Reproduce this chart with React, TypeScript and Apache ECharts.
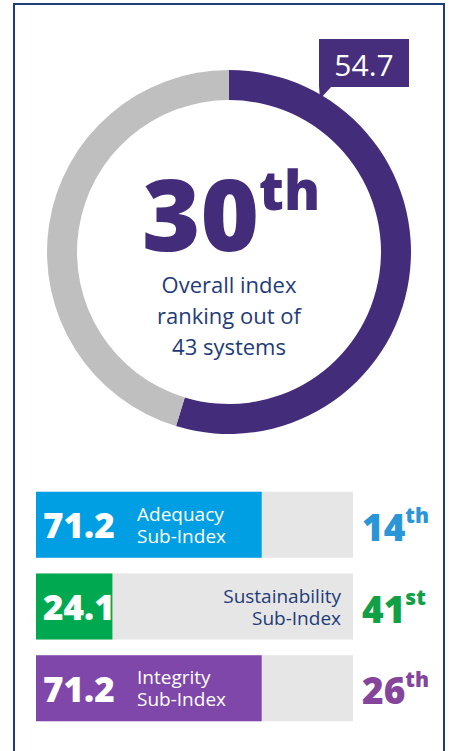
import React, { useEffect, useRef } from "react";
import * as echarts from "echarts";

// ---- data ----
const OVERALL_SCORE = 54.7;
const SCORE_SCALE = 100;
const OVERALL_RANK = "30";
const OVERALL_RANK_SUFFIX = "th";
const OVERALL_TEXT = ["Overall index", "ranking out of", "43 systems"];

const SUB_INDEX_NAMES = ["Adequacy", "Sustainability", "Integrity"];
const SUB_INDEX_LABELS = ["Adequacy\nSub-Index", "Sustainability\nSub-Index", "Integrity\nSub-Index"];
const SUB_INDEX_VALUES = [71.2, 24.1, 71.2];
const SUB_INDEX_RANKS = ["14", "41", "26"];
const SUB_INDEX_SUFFIXES = ["th", "st", "th"];

// ---- styles ----
const FONT = "'Open Sans', 'Noto Sans', sans-serif";
const NAVY = "#1f3b78";
const RING_PURPLE = "#432c7a";
const RING_GRAY = "#bfbfbf";
const BAR_COLORS = ["#009fe3", "#00a94f", "#7f47aa"];
const RANK_COLORS = ["#2a96d7", "#12a047", "#85459c"];
const NAME_COLORS = ["#ffffff", NAVY, "#ffffff"];
const NAME_POS = ["insideLeft", "insideRight", "insideLeft"];
const NAME_DIST = [101, 12, 101];

export default function App() {
  const ref = useRef<HTMLDivElement>(null);

  useEffect(() => {
    document.body.style.margin = "0";
    const chart = echarts.init(ref.current!, null, { renderer: "svg" });

    const rankRich: any = {};
    RANK_COLORS.forEach((c, i) => {
      rankRich["n" + i] = { fontFamily: FONT, fontWeight: 800, fontSize: 37, lineHeight: 40, color: c, verticalAlign: "bottom" };
      rankRich["s" + i] = { fontFamily: FONT, fontWeight: 800, fontSize: 21, lineHeight: 24, color: c, verticalAlign: "top" };
    });

    const option: any = {
      animation: false,
      grid: { left: 36, width: 317, top: 484, height: 245 },
      xAxis: { type: "value", min: 0, max: SCORE_SCALE, show: false },
      yAxis: [
        { type: "category", data: SUB_INDEX_NAMES, inverse: true, show: false },
        {
          type: "category",
          data: SUB_INDEX_NAMES,
          inverse: true,
          position: "right",
          axisLine: { show: false },
          axisTick: { show: false },
          axisLabel: {
            margin: 9,
            align: "left",
            formatter: (_v: string, i: number) => `{n${i}|${SUB_INDEX_RANKS[i]}}{s${i}|${SUB_INDEX_SUFFIXES[i]}}`,
            rich: rankRich,
          },
        },
      ],
      series: [
        {
          type: "pie",
          silent: true,
          center: [229, 252],
          radius: [152, 182],
          startAngle: 90,
          clockwise: true,
          label: { show: false },
          labelLine: { show: false },
          data: [
            { value: OVERALL_SCORE, itemStyle: { color: RING_PURPLE } },
            { value: SCORE_SCALE - OVERALL_SCORE, itemStyle: { color: RING_GRAY } },
          ],
        },
        {
          type: "bar",
          silent: true,
          yAxisIndex: 0,
          barWidth: 66,
          barGap: "-100%",
          showBackground: true,
          backgroundStyle: { color: "#e6e6e6" },
          data: SUB_INDEX_VALUES.map((v, i) => ({ value: v, itemStyle: { color: BAR_COLORS[i] } })),
          label: {
            show: true,
            position: "insideLeft",
            distance: 7,
            formatter: (p: any) => Number(p.value).toFixed(1),
            color: "#fff",
            fontFamily: FONT,
            fontWeight: 800,
            fontSize: 35,
          },
        },
        {
          type: "bar",
          silent: true,
          yAxisIndex: 0,
          barWidth: 66,
          barGap: "-100%",
          itemStyle: { color: "rgba(0,0,0,0)" },
          data: SUB_INDEX_LABELS.map((t, i) => ({
            value: SCORE_SCALE,
            label: {
              show: true,
              position: NAME_POS[i],
              distance: NAME_DIST[i],
              formatter: t,
              color: NAME_COLORS[i],
              fontFamily: FONT,
              fontSize: 19,
              lineHeight: 22,
            },
          })),
        },
      ],
      graphic: [
        {
          type: "rect",
          silent: true,
          shape: { x: 14, y: 4, width: 430, height: 800 },
          style: { fill: "none", stroke: "#1f3d7b", lineWidth: 2 },
        },
        {
          type: "rect",
          silent: true,
          shape: { x: 319, y: 39, width: 90, height: 48 },
          style: { fill: "#462e7c" },
        },
        {
          type: "polygon",
          silent: true,
          shape: { points: [[319, 86], [332, 86], [320, 99]] },
          style: { fill: "#462e7c" },
        },
        {
          type: "text",
          silent: true,
          x: 364,
          y: 64,
          style: {
            text: OVERALL_SCORE.toFixed(1),
            fill: "#fff",
            fontFamily: FONT,
            fontSize: 30,
            align: "center",
            verticalAlign: "middle",
          },
        },
        {
          type: "text",
          silent: true,
          x: 231,
          y: 212,
          style: {
            text: `{a|${OVERALL_RANK}}{b|${OVERALL_RANK_SUFFIX}}`,
            align: "center",
            verticalAlign: "middle",
            rich: {
              a: { fontFamily: FONT, fontWeight: 800, fontSize: 100, lineHeight: 100, fill: RING_PURPLE, verticalAlign: "bottom" },
              b: { fontFamily: FONT, fontWeight: 800, fontSize: 54, lineHeight: 60, fill: RING_PURPLE, verticalAlign: "top" },
            },
          },
        },
        {
          type: "text",
          silent: true,
          x: 229,
          y: 315,
          style: {
            text: OVERALL_TEXT.join("\n"),
            fill: NAVY,
            fontFamily: FONT,
            fontSize: 22,
            lineHeight: 31,
            align: "center",
            verticalAlign: "middle",
          },
        },
      ],
    };

    chart.setOption(option);
    return () => chart.dispose();
  }, []);

  return <div ref={ref} style={{ width: 451, height: 751 }} />;
}
